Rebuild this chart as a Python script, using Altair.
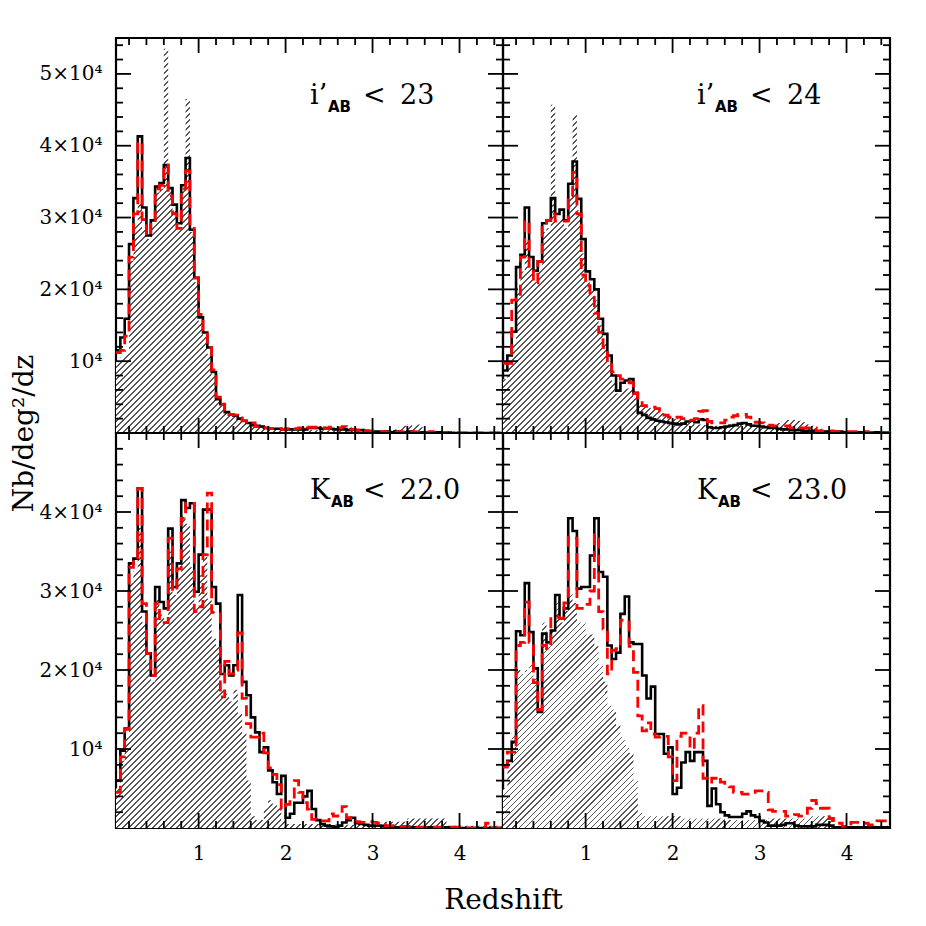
import altair as alt
import pandas as pd

SERIF = "DejaVu Serif"
SANS = "DejaVu Sans"

# histogram bins: [0.05 + 0.05*i, 0.10 + 0.05*i], values in units of 1e4 /deg^2/dz
Z0 = 0.05
DZ = 0.05
X_DOMAIN = [0.05, 4.5]
PW, PH = 387, 395
UNIT = 1e4

tl_black = [1.15, 1.33, 1.59, 2.63, 3.27, 4.13, 3.14, 2.75, 2.96, 3.43,
            3.48, 3.73, 3.41, 3.18, 2.92, 3.45, 3.83, 2.83, 2.16, 1.61,
            1.40, 1.19, 0.85, 0.47, 0.40, 0.29, 0.26, 0.24, 0.20, 0.17,
            0.14, 0.11, 0.10, 0.09, 0.07, 0.06, 0.06, 0.06, 0.05, 0.05,
            0.05, 0.05, 0.05, 0.05, 0.07, 0.07, 0.07, 0.06, 0.07, 0.06,
            0.05, 0.05, 0.05, 0.04, 0.05, 0.04, 0.04, 0.03, 0.02, 0.02,
            0.02, 0.02, 0.02, 0.01, 0.02, 0.01, 0.01, 0.02, 0.01, 0.01,
            0.01, 0.01, 0.01, 0.01, 0.01, 0.00, 0.01, 0.00, 0.00, 0.00,
            0.00, 0.00, 0.00, 0.00, 0.00, 0.00, 0.00, 0.00, 0.00, 0.00]
tl_red = [1.12, 1.15, 1.35, 2.45, 3.05, 4.05, 2.97, 2.75, 2.96, 3.40,
          3.45, 3.73, 3.30, 3.05, 2.85, 3.40, 3.65, 2.85, 2.16, 1.65,
          1.40, 1.19, 0.88, 0.50, 0.40, 0.30, 0.26, 0.25, 0.21, 0.17,
          0.13, 0.14, 0.09, 0.07, 0.07, 0.06, 0.06, 0.06, 0.05, 0.06,
          0.07, 0.06, 0.07, 0.10, 0.08, 0.08, 0.07, 0.07, 0.06, 0.08,
          0.07, 0.07, 0.09, 0.06, 0.05, 0.04, 0.05, 0.03, 0.03, 0.02,
          0.02, 0.02, 0.01, 0.02, 0.01, 0.02, 0.01, 0.01, 0.02, 0.01,
          0.01, 0.01, 0.02, 0.01, 0.01, 0.01, 0.00, 0.01, 0.00, 0.00,
          0.00, 0.01, 0.00, 0.00, 0.00, 0.00, 0.00, 0.00, 0.00, 0.00]
tl_hatch = [1.00, 1.05, 1.10, 2.40, 2.90, 3.20, 2.85, 2.70, 2.90, 3.35,
            3.40, 5.35, 3.40, 3.10, 2.85, 3.40, 4.65, 2.80, 2.10, 1.55,
            1.35, 1.10, 0.80, 0.45, 0.38, 0.30, 0.27, 0.24, 0.18, 0.15,
            0.12, 0.10, 0.09, 0.08, 0.08, 0.07, 0.06, 0.06, 0.05, 0.05,
            0.05, 0.05, 0.04, 0.05, 0.05, 0.04, 0.04, 0.04, 0.04, 0.04,
            0.04, 0.04, 0.03, 0.04, 0.03, 0.03, 0.03, 0.03, 0.03, 0.03,
            0.03, 0.03, 0.03, 0.04, 0.05, 0.08, 0.10, 0.12, 0.10, 0.12,
            0.08, 0.04, 0.03, 0.02, 0.02, 0.02, 0.02, 0.02, 0.02, 0.01,
            0.01, 0.01, 0.01, 0.01, 0.01, 0.01, 0.01, 0.01, 0.01, 0.01]

tr_black = [0.87, 1.08, 1.41, 2.31, 2.48, 3.14, 2.45, 2.26, 2.39, 2.92,
            2.96, 3.27, 3.05, 3.11, 2.96, 3.47, 3.78, 3.26, 2.70, 2.25,
            2.14, 2.00, 1.59, 1.38, 1.08, 0.80, 0.59, 0.70, 0.73, 0.75,
            0.56, 0.28, 0.25, 0.21, 0.19, 0.17, 0.16, 0.15, 0.14, 0.13,
            0.12, 0.13, 0.16, 0.17, 0.15, 0.19, 0.18, 0.08, 0.07, 0.07,
            0.08, 0.09, 0.10, 0.11, 0.13, 0.14, 0.12, 0.10, 0.10, 0.09,
            0.08, 0.07, 0.07, 0.06, 0.05, 0.05, 0.04, 0.04, 0.04, 0.03,
            0.03, 0.03, 0.02, 0.02, 0.02, 0.02, 0.02, 0.02, 0.01, 0.01,
            0.01, 0.01, 0.01, 0.01, 0.01, 0.01, 0.01, 0.01, 0.01, 0.01]
tr_red = [0.97, 0.97, 1.85, 1.90, 2.45, 2.95, 2.32, 2.09, 2.39, 2.90,
          2.96, 3.05, 2.95, 2.95, 2.95, 3.30, 3.63, 3.05, 2.20, 2.05,
          1.95, 1.67, 1.40, 1.19, 0.95, 0.85, 0.80, 0.75, 0.73, 0.70,
          0.55, 0.45, 0.38, 0.37, 0.36, 0.34, 0.30, 0.25, 0.22, 0.21,
          0.22, 0.20, 0.19, 0.18, 0.20, 0.30, 0.31, 0.16, 0.14, 0.14,
          0.14, 0.18, 0.22, 0.24, 0.26, 0.26, 0.22, 0.18, 0.15, 0.14,
          0.12, 0.11, 0.10, 0.10, 0.10, 0.10, 0.07, 0.07, 0.07, 0.07,
          0.07, 0.07, 0.03, 0.03, 0.03, 0.03, 0.02, 0.02, 0.02, 0.02,
          0.02, 0.02, 0.02, 0.02, 0.01, 0.01, 0.01, 0.01, 0.01, 0.01]
tr_hatch = [0.75, 0.95, 1.25, 2.00, 2.25, 2.70, 2.30, 2.10, 2.30, 2.80,
            2.85, 4.57, 2.95, 3.00, 2.85, 3.30, 4.43, 3.10, 2.50, 2.10,
            2.00, 1.85, 1.50, 1.25, 0.95, 0.72, 0.55, 0.60, 0.62, 0.62,
            0.50, 0.40, 0.38, 0.35, 0.33, 0.30, 0.28, 0.25, 0.22, 0.20,
            0.18, 0.15, 0.14, 0.13, 0.12, 0.12, 0.11, 0.10, 0.10, 0.10,
            0.10, 0.11, 0.12, 0.12, 0.12, 0.13, 0.13, 0.12, 0.10, 0.10,
            0.10, 0.11, 0.12, 0.14, 0.16, 0.18, 0.19, 0.18, 0.17, 0.15,
            0.12, 0.10, 0.08, 0.06, 0.04, 0.04, 0.03, 0.03, 0.03, 0.02,
            0.02, 0.02, 0.02, 0.02, 0.02, 0.02, 0.02, 0.02, 0.02, 0.02]

bl_black = [0.60, 0.98, 1.26, 3.35, 3.41, 4.30, 2.74, 2.21, 1.93, 3.05,
            2.86, 2.78, 3.79, 3.05, 3.35, 4.15, 4.05, 4.11, 2.99, 3.46,
            4.03, 4.03, 3.05, 2.84, 1.95, 2.06, 1.93, 2.06, 2.95, 1.85,
            1.68, 1.40, 1.21, 0.96, 1.02, 0.73, 0.58, 0.43, 0.66, 0.13,
            0.18, 0.32, 0.32, 0.40, 0.47, 0.24, 0.10, 0.05, 0.03, 0.02,
            0.01, 0.03, 0.07, 0.10, 0.13, 0.06, 0.05, 0.04, 0.03, 0.03,
            0.03, 0.02, 0.02, 0.01, 0.01, 0.01, 0.01, 0.01, 0.01, 0.01,
            0.01, 0.01, 0.01, 0.01, 0.01, 0.01, 0.01, 0.00, 0.00, 0.00,
            0.00, 0.00, 0.00, 0.00, 0.00, 0.00, 0.00, 0.00, 0.00, 0.00]
bl_red = [0.45, 0.90, 1.25, 3.30, 3.37, 4.30, 2.84, 2.21, 1.93, 2.84,
          2.60, 2.60, 3.67, 3.00, 3.28, 3.92, 4.11, 4.11, 2.74, 2.80,
          3.46, 4.24, 2.73, 2.73, 1.66, 2.11, 1.95, 2.00, 2.47, 1.64,
          1.32, 1.15, 1.15, 1.20, 0.95, 0.76, 0.68, 0.55, 0.24, 0.30,
          0.37, 0.60, 0.45, 0.32, 0.24, 0.11, 0.09, 0.09, 0.09, 0.18,
          0.15, 0.18, 0.27, 0.13, 0.08, 0.08, 0.07, 0.07, 0.08, 0.07,
          0.06, 0.04, 0.03, 0.03, 0.03, 0.02, 0.02, 0.02, 0.02, 0.01,
          0.01, 0.01, 0.01, 0.01, 0.01, 0.01, 0.01, 0.01, 0.01, 0.01,
          0.00, 0.00, 0.00, 0.00, 0.00, 0.06, 0.00, 0.00, 0.00, 0.00]
bl_hatch = [0.50, 0.85, 1.15, 3.10, 3.25, 3.80, 2.60, 2.10, 1.85, 2.90,
            2.70, 2.65, 3.50, 2.95, 3.20, 3.95, 3.85, 3.30, 2.80, 3.20,
            3.45, 2.90, 2.40, 2.30, 1.75, 1.70, 1.60, 1.75, 1.45, 1.20,
            0.60, 0.15, 0.10, 0.10, 0.25, 0.35, 0.30, 0.25, 0.10, 0.05,
            0.05, 0.05, 0.05, 0.05, 0.05, 0.05, 0.05, 0.05, 0.05, 0.05,
            0.04, 0.04, 0.04, 0.04, 0.04, 0.04, 0.04, 0.04, 0.04, 0.04,
            0.04, 0.08, 0.08, 0.08, 0.08, 0.08, 0.08, 0.12, 0.12, 0.12,
            0.12, 0.12, 0.12, 0.12, 0.12, 0.12, 0.03, 0.03, 0.03, 0.03,
            0.03, 0.03, 0.03, 0.03, 0.03, 0.03, 0.03, 0.03, 0.03, 0.03]

br_black = [0.79, 0.85, 1.09, 2.49, 2.44, 3.10, 2.48, 2.02, 1.47, 2.46,
            2.35, 2.50, 2.95, 2.65, 2.78, 3.92, 3.76, 3.03, 3.05, 3.05,
            3.45, 3.92, 3.24, 3.18, 2.31, 2.14, 2.22, 2.71, 2.93, 2.35,
            2.33, 2.33, 1.93, 1.64, 1.79, 1.19, 1.19, 0.94, 1.02, 0.43,
            0.51, 0.83, 0.96, 0.85, 0.96, 0.96, 0.85, 0.28, 0.50, 0.30,
            0.20, 0.16, 0.14, 0.14, 0.14, 0.18, 0.21, 0.16, 0.14, 0.09,
            0.07, 0.03, 0.03, 0.03, 0.04, 0.06, 0.06, 0.03, 0.02, 0.02,
            0.02, 0.02, 0.04, 0.04, 0.04, 0.03, 0.01, 0.01, 0.01, 0.01,
            0.01, 0.01, 0.01, 0.01, 0.01, 0.01, 0.01, 0.01, 0.01, 0.01]
br_red = [0.77, 0.96, 0.96, 2.31, 2.35, 2.86, 2.35, 1.84, 1.50, 2.31,
          2.27, 2.65, 2.67, 2.65, 2.85, 3.68, 3.67, 2.78, 2.78, 2.83,
          3.00, 3.71, 2.74, 2.52, 1.95, 2.25, 2.27, 2.63, 2.63, 2.30,
          1.97, 1.42, 1.23, 1.33, 1.19, 1.15, 1.16, 1.16, 0.90, 0.60,
          1.16, 1.20, 1.20, 1.00, 1.20, 1.55, 0.63, 0.58, 0.63, 0.65,
          0.58, 0.54, 0.52, 0.45, 0.45, 0.43, 0.43, 0.45, 0.47, 0.47,
          0.45, 0.23, 0.21, 0.21, 0.21, 0.15, 0.15, 0.17, 0.15, 0.15,
          0.25, 0.35, 0.31, 0.25, 0.25, 0.12, 0.06, 0.06, 0.02, 0.02,
          0.07, 0.07, 0.06, 0.06, 0.04, 0.04, 0.09, 0.09, 0.09, 0.09]
br_hatch = [0.50, 0.80, 1.20, 2.00, 1.95, 2.00, 2.10, 1.90, 1.45, 2.60,
            2.30, 2.50, 2.90, 2.60, 2.75, 3.00, 2.85, 2.60, 2.60, 2.45,
            2.45, 2.30, 2.05, 1.85, 1.55, 1.50, 1.30, 1.15, 1.05, 0.95,
            0.60, 0.20, 0.15, 0.15, 0.15, 0.15, 0.15, 0.15, 0.15, 0.15,
            0.15, 0.12, 0.12, 0.12, 0.12, 0.12, 0.12, 0.12, 0.12, 0.12,
            0.12, 0.10, 0.10, 0.10, 0.10, 0.10, 0.10, 0.10, 0.10, 0.10,
            0.10, 0.12, 0.12, 0.12, 0.12, 0.12, 0.12, 0.12, 0.12, 0.12,
            0.15, 0.15, 0.15, 0.15, 0.15, 0.15, 0.03, 0.03, 0.03, 0.03,
            0.03, 0.03, 0.03, 0.03, 0.03, 0.03, 0.03, 0.03, 0.03, 0.03]

panel_labels = [
    ("i\u2019", "AB", "23"),
    ("i\u2019", "AB", "24"),
    ("K", "AB", "22.0"),
    ("K", "AB", "23.0"),
]
y_top_max, y_bot_max = 55000, 50000
y_top_labels = [10000, 20000, 30000, 40000, 50000]
y_bot_labels = [10000, 20000, 30000, 40000]
x_labels = [1, 2, 3, 4]

TICK_MAJ, TICK_MIN = 15, 7
HATCH_PERIOD, HATCH_LINE = 6.0, 1.25
HATCH_COLOR = "#555555"


def step_frame(hatch, black, red):
    n = len(black)
    z = [round(Z0 + DZ * i, 3) for i in range(n + 1)]
    return pd.DataFrame({
        "z": z,
        "hatch": [v * UNIT for v in hatch] + [hatch[-1] * UNIT],
        "black": [v * UNIT for v in black] + [black[-1] * UNIT],
        "red": [v * UNIT for v in red] + [red[-1] * UNIT],
    })


def hatch_gradient(hatch, ymax):
    n = len(hatch)
    w = (DZ * n) / (X_DOMAIN[1] - X_DOMAIN[0]) * PW
    h = max(hatch) * UNIT / ymax * PH
    k = (w + h) * h / (w * w + h * h)
    total = w + h
    stops = []
    i = 0
    while True:
        t0 = i * HATCH_PERIOD / total
        t1 = (i * HATCH_PERIOD + HATCH_LINE) / total
        if t1 > 1:
            break
        stops += [{"offset": round(t0, 5), "color": "#ffffff"},
                  {"offset": round(t0, 5), "color": HATCH_COLOR},
                  {"offset": round(t1, 5), "color": HATCH_COLOR},
                  {"offset": round(t1, 5), "color": "#ffffff"}]
        i += 1
    return {"gradient": "linear", "x1": 0, "y1": 0,
            "x2": round(k * w / h, 5), "y2": round(k, 5), "stops": stops}


def label_layers(main, sub, num):
    def t(s, x, y, size, font, weight="normal"):
        return alt.Chart(pd.DataFrame({"t": [s]})).mark_text(
            align="left", baseline="alphabetic", font=font, fontSize=size,
            fontWeight=weight, color="black"
        ).encode(x=alt.value(x), y=alt.value(y), text="t:N")
    base = 66
    return [
        t(main, 194, base, 27, SERIF),
        t(sub, 212 if main == "i\u2019" else 215, base + 8, 15, SANS, "bold"),
        t("<", 247, base, 27, SERIF),
        t(num, 284, base, 27, SERIF),
    ]


def panel(hatch, black, red, ymax, labels, left, bottom, ytitle=False, xtitle=False):
    df = step_frame(hatch, black, red)
    xscale = alt.Scale(domain=X_DOMAIN, nice=False, zero=False)
    yscale = alt.Scale(domain=[0, ymax], nice=False, zero=False)

    if bottom:
        xkw = dict(values=x_labels, format="d", ticks=False, tickSize=0, domain=False,
                   grid=False, labelFont=SERIF, labelFontSize=20, labelColor="black",
                   labelPadding=15, labelFlush=False)
        if xtitle:
            xkw.update(title="Redshift", titleFont=SERIF, titleFontSize=28,
                       titleFontWeight="normal", titleColor="black",
                       titleX=PW, titleY=80, titleAlign="center",
                       titleBaseline="alphabetic")
        else:
            xkw.update(title=None)
        xaxis = alt.Axis(**xkw)
    else:
        xaxis = None

    if left:
        ykw = dict(values=(y_top_labels if ymax == y_top_max else y_bot_labels),
                   labelExpr="datum.value == 10000 ? '10\u2074' : format(datum.value / 10000, 'd') + '\u00d710\u2074'",
                   ticks=False, tickSize=0, domain=False, grid=False,
                   labelFont=SERIF, labelFontSize=20, labelColor="black",
                   labelPadding=14, labelFlush=False)
        if ytitle:
            ykw.update(title="Nb/deg\u00b2/dz", titleFont=SERIF, titleFontSize=28,
                       titleFontWeight="normal", titleColor="black",
                       titleAngle=270, titleX=-92, titleY=PH,
                       titleAlign="center", titleBaseline="middle")
        else:
            ykw.update(title=None)
        yaxis = alt.Axis(**ykw)
    else:
        yaxis = None

    def X(f):
        return alt.X(f + ":Q", scale=xscale, axis=xaxis)

    def Y(f):
        return alt.Y(f + ":Q", scale=yscale, axis=yaxis)

    area = alt.Chart(df).mark_area(
        interpolate="step-after", clip=True, opacity=1,
        color=hatch_gradient(hatch, ymax)
    ).encode(x=X("z"), y=Y("hatch"))
    bl = alt.Chart(df).mark_line(
        interpolate="step-after", clip=True, color="black", strokeWidth=2.6
    ).encode(x=X("z"), y=Y("black"))
    rd = alt.Chart(df).mark_line(
        interpolate="step-after", clip=True, color="#ff0000", strokeWidth=2.8,
        strokeDash=[11, 6]
    ).encode(x=X("z"), y=Y("red"))

    ymaj = [v for v in range(10000, ymax, 10000)]
    ymin = [v for v in range(2000, ymax, 2000) if v % 10000 != 0]
    xmaj = [1, 2, 3, 4]
    xmin = [round(0.2 * i, 1) for i in range(1, 23) if i % 5 != 0]

    def rules(vals, horiz, a, b):
        d = pd.DataFrame({"v": vals})
        m = alt.Chart(d).mark_rule(color="black", strokeWidth=1.8)
        if horiz:
            return m.encode(y=Y("v"), x=alt.value(a), x2=alt.value(b))
        return m.encode(x=X("v"), y=alt.value(a), y2=alt.value(b))

    ticks = [
        rules(ymaj, True, 0, TICK_MAJ), rules(ymin, True, 0, TICK_MIN),
        rules(ymaj, True, PW - TICK_MAJ, PW), rules(ymin, True, PW - TICK_MIN, PW),
        rules(xmaj, False, PH - TICK_MAJ, PH), rules(xmin, False, PH - TICK_MIN, PH),
        rules(xmaj, False, 0, TICK_MAJ), rules(xmin, False, 0, TICK_MIN),
    ]
    return alt.layer(area, bl, rd, *ticks, *label_layers(*labels)).properties(
        width=PW, height=PH)


tl = panel(tl_hatch, tl_black, tl_red, y_top_max, panel_labels[0], True, False, ytitle=True)
tr = panel(tr_hatch, tr_black, tr_red, y_top_max, panel_labels[1], False, False)
bl = panel(bl_hatch, bl_black, bl_red, y_bot_max, panel_labels[2], True, True, xtitle=True)
br = panel(br_hatch, br_black, br_red, y_bot_max, panel_labels[3], False, True)

chart = alt.concat(tl, tr, bl, br, columns=2, spacing=0, bounds="flush").properties(
    padding={"left": 0, "top": 28, "right": 5, "bottom": 5},
    background="white",
).configure_view(stroke="black", strokeWidth=2.2)

chart.save("out.html", embed_options={"renderer": "svg", "actions": False})
